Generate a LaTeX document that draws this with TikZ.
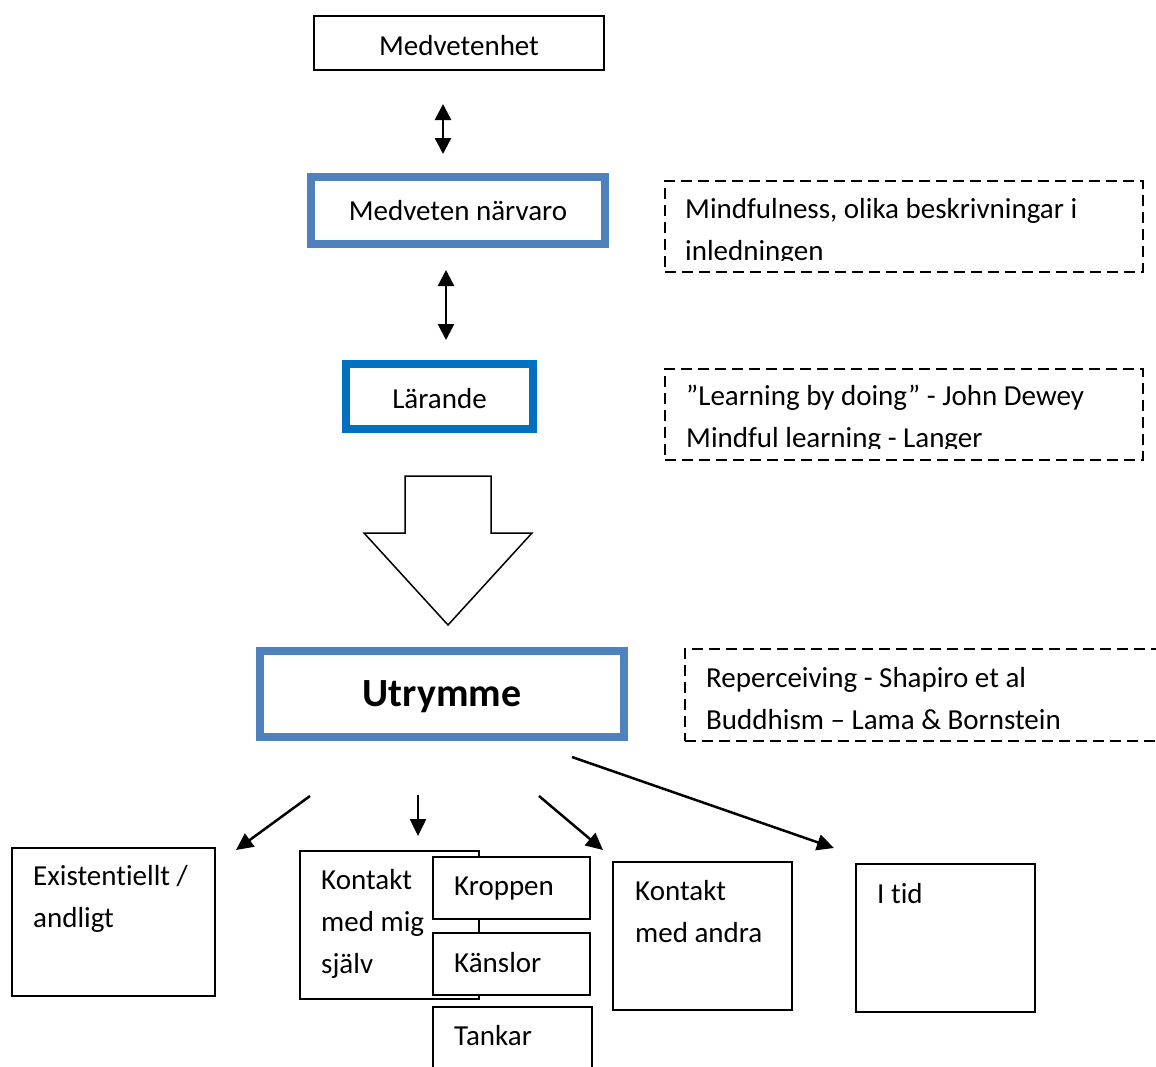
\documentclass[tikz,border=0pt]{standalone}
\usepackage{fontspec}
\setmainfont{Carlito}[Ligatures=NoCommon]
\usetikzlibrary{arrows.meta}
\definecolor{boxblue}{HTML}{4F81BD}
\definecolor{learnblue}{HTML}{0070C0}
\newcommand\txtfont{\fontsize{29}{42}\selectfont}
\tikzset{
	plainbox/.style={draw, line width=1.5pt, fill=white, inner sep=0pt},
	bluebox/.style={draw=boxblue, line width=7.5pt, inner sep=0pt, font=\txtfont},
	notebox/.style={draw, line width=1.5pt, dash pattern=on 11pt off 6pt, inner sep=0pt},
	txt/.style={inner sep=0pt, align=left, font=\txtfont, anchor=base west},
	tip/.style={line width=2.5pt, -{Triangle[length=17pt,width=16pt]}},
	twotip/.style={line width=2.5pt, {Triangle[length=16pt,width=16pt]}-{Triangle[length=16pt,width=16pt]}}
}

\begin{document}
\begin{tikzpicture}[x=1pt, y=-1pt]
		%%%%% START %%%%%
		\useasboundingbox (0, 0) rectangle (1156, 1066);
		
		\node[plainbox, minimum width=290, minimum height=54, font=\txtfont, text height=24pt, text depth=0pt] (medv) at (459, 43) {Medvetenhet};
		\node[bluebox, minimum width=294, minimum height=67] (narvaro) at (458, 210.5) {Medveten närvaro};
		\node[bluebox, draw=learnblue, minimum width=187, minimum height=65, text height=23pt, text depth=0pt] (larande) at (439.5, 396.5) {Lärande};
		\node[bluebox, minimum width=364, minimum height=86, font=\fontsize{40}{48}\selectfont\bfseries, text height=32pt, text depth=7.5pt] (utrymme) at (442, 694) {Utrymme};
		
		\coordinate (m1) at (443, 104);
		\coordinate (m2) at (443, 154);
		\coordinate (n1) at (446, 270);
		\coordinate (n2) at (446, 340);
		\draw[twotip] (m1) -- (m2);
		\draw[twotip] (n1) -- (n2);
		
		% notes on the right
		\node[notebox, minimum width=478, minimum height=91] (note1) at (904, 226.5) {};
		\node[notebox, minimum width=478, minimum height=91] (note2) at (904, 414.5) {};
		\node[notebox, minimum width=490, minimum height=92] (note3) at (930, 695) {};
		\begin{scope}
			\clip (660, 185) rectangle (1140, 260);
			\node[txt] (note1txt) at (685, 260) {Mindfulness, olika beskrivningar i\\inledningen};
		\end{scope}
		\begin{scope}
			\clip (660, 373) rectangle (1140, 448);
			\node[txt] (note2txt) at (686, 447) {”Learning by doing” - John Dewey\\Mindful learning - Langer};
		\end{scope}
		\node[txt] (note3txt) at (706, 729) {Reperceiving - Shapiro et al\\Buddhism – Lama \& Bornstein};
		
		% big arrow
		\draw[line width=1.5pt, line join=miter] (405, 476) -- (491, 476) -- (491, 533) -- (532, 533) -- (448, 625) -- (364, 533) -- (405, 533) -- cycle;
		
		% bottom row
		\node[plainbox, minimum width=203, minimum height=148] (exist) at (113.5, 922) {};
		\node[txt] (existtxt) at (33, 927) {Existentiellt /\\andligt};
		
		\node[plainbox, minimum width=179, minimum height=148] (mig) at (389.5, 925) {};
		\node[txt] (migtxt) at (321, 973) {Kontakt\\med mig\\själv};
		\node[plainbox, minimum width=157, minimum height=62] (kropp) at (511.5, 888) {};
		\node[txt] (kropptxt) at (454, 895) {Kroppen};
		\node[plainbox, minimum width=157, minimum height=62] (kansla) at (511.5, 964) {};
		\node[txt] (kanslatxt) at (454, 972) {Känslor};
		\node[plainbox, minimum width=159, minimum height=73] (tanke) at (512.5, 1043.5) {};
		\node[txt] (tanketxt) at (454, 1045) {Tankar};
		
		\node[plainbox, minimum width=179, minimum height=148] (andra) at (702.5, 936) {};
		\node[txt] (andratxt) at (635, 942) {Kontakt\\med andra};
		
		\node[plainbox, minimum width=179, minimum height=148] (tid) at (945.5, 938) {};
		\node[txt] (tidtxt) at (877, 903) {I tid};
		
		\coordinate (u1) at (310, 796);
		\coordinate (e1) at (236, 850);
		\coordinate (u2) at (418, 795);
		\coordinate (e2) at (418, 836);
		\coordinate (u3) at (539, 796);
		\coordinate (e3) at (603, 850);
		\coordinate (u4) at (572, 757);
		\coordinate (e4) at (834, 848);
		\draw[tip] (u1) -- (e1);
		\draw[tip] (u2) -- (e2);
		\draw[tip] (u3) -- (e3);
		\draw[tip] (u4) -- (e4);
		
		%%%%% END %%%%%
	\end{tikzpicture}
\end{document}
